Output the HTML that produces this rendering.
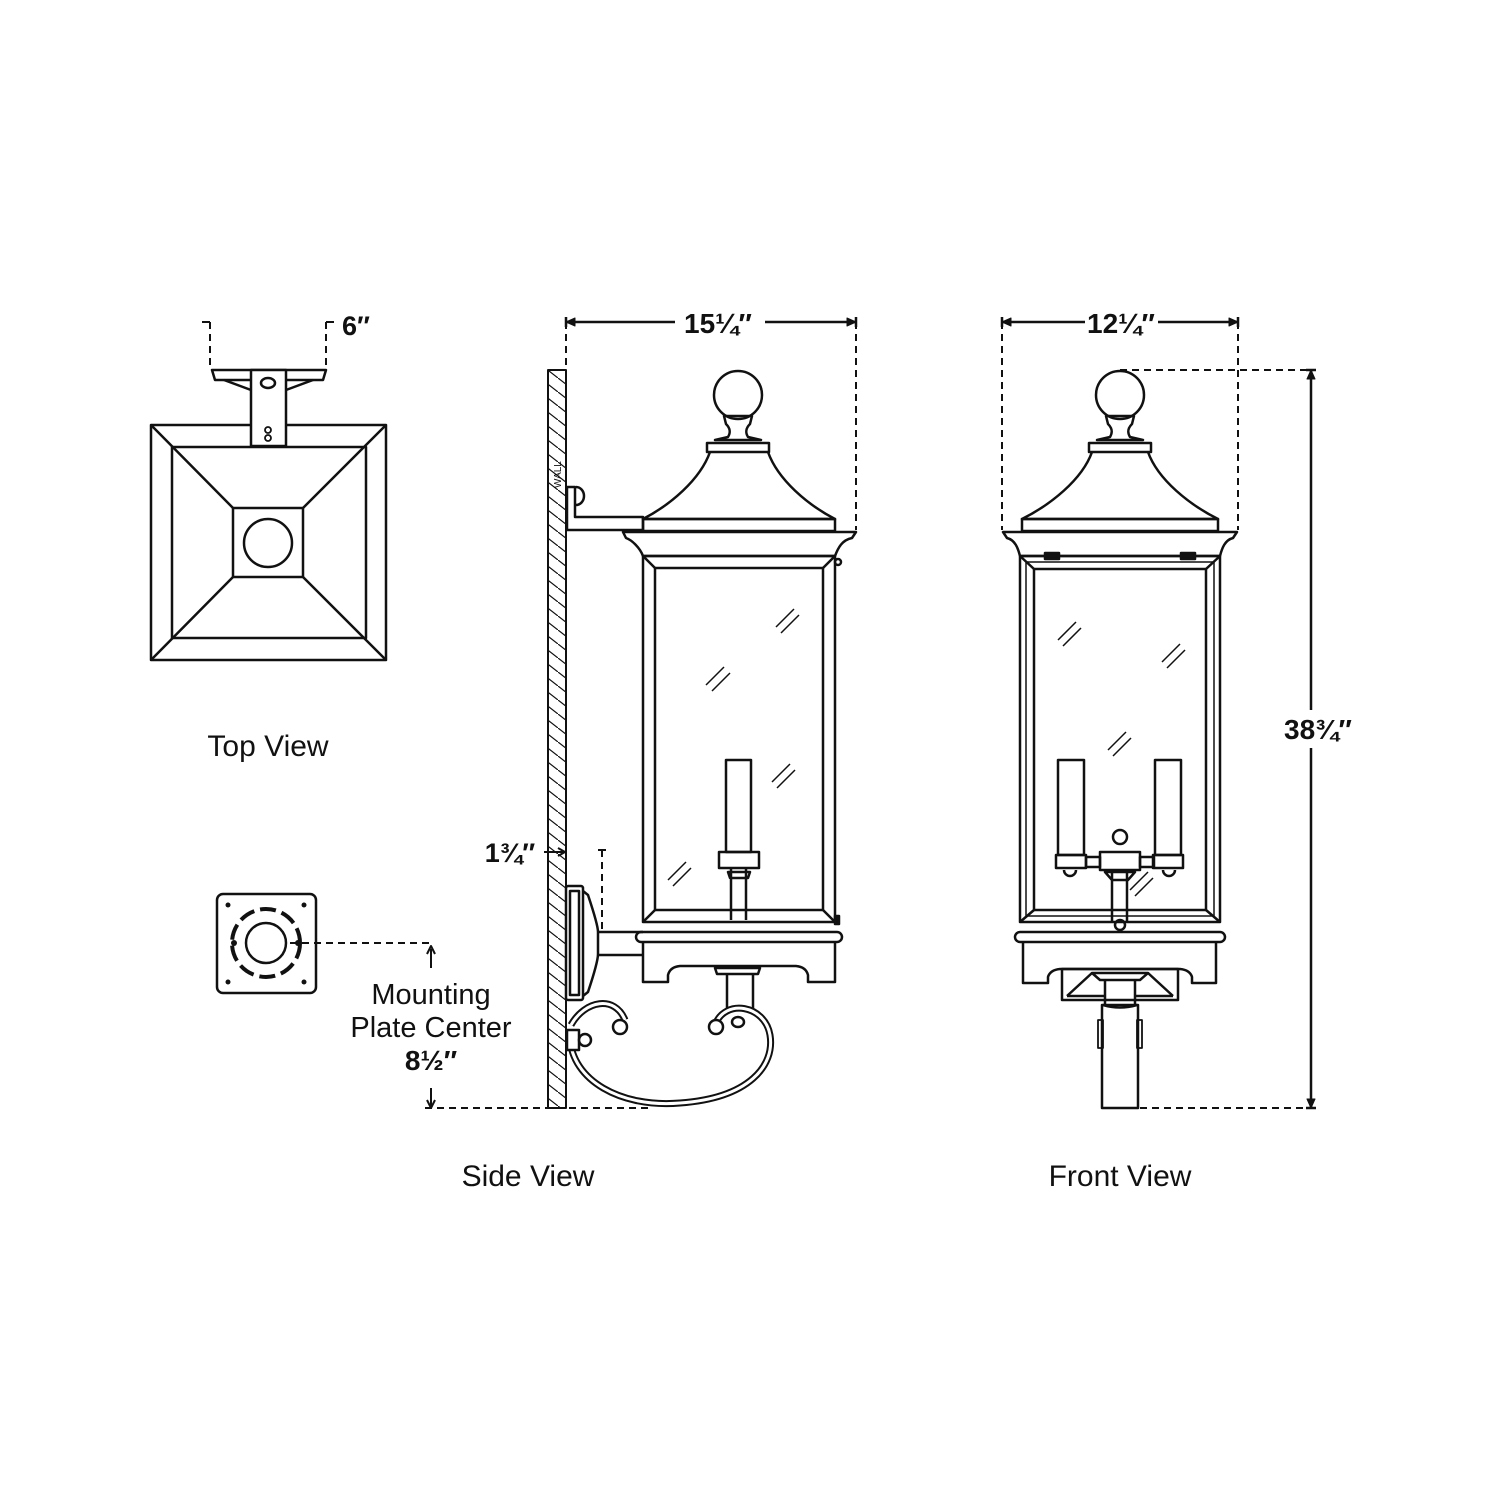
<!DOCTYPE html>
<html><head><meta charset="utf-8"><style>
html,body{margin:0;padding:0;background:#fff;}
svg{display:block}
text{font-family:"Liberation Sans",sans-serif;fill:#111}
</style></head><body>
<svg width="1500" height="1500" viewBox="0 0 1500 1500" xmlns="http://www.w3.org/2000/svg">
<defs>
<pattern id="hatch" patternUnits="userSpaceOnUse" width="18" height="14">
<path d="M0,0 L18,14" stroke="#111" stroke-width="1.2"/>
</pattern>
</defs>
<g fill="none" stroke="#111" stroke-width="2.5" stroke-linejoin="round">

<!-- TOP VIEW -->
<rect x="151" y="425" width="235" height="235"/>
<rect x="172" y="447" width="194" height="191"/>
<rect x="233" y="508" width="70" height="69"/>
<circle cx="268" cy="543" r="24"/>
<path d="M151,425 L233,508 M386,425 L303,508 M151,660 L233,577 M386,660 L303,577"/>
<path d="M212,370 L326,370 L323,380 L215,380 Z" fill="#fff"/>
<path d="M224,380 L251,390 M313,380 L286,390"/>
<rect x="251" y="370" width="35" height="76" fill="#fff"/>
<ellipse cx="268" cy="383" rx="7" ry="5"/>
<circle cx="268" cy="430" r="3" stroke-width="1.8"/>
<circle cx="268" cy="438" r="3" stroke-width="1.8"/>
<g stroke-dasharray="7,5" stroke-width="2"><path d="M210,322 V370 M326,322 V370"/></g>
<path d="M202,322 H210 M326,322 H334" stroke-width="2"/>

<!-- MOUNTING PLATE -->
<rect x="217" y="894" width="99" height="99" rx="6"/>
<circle cx="266" cy="943" r="20"/>
<circle cx="266" cy="943" r="34" stroke-width="4" stroke-dasharray="16,6"/>
<g fill="#111" stroke="none">
<circle cx="228" cy="905" r="2.5"/><circle cx="304" cy="905" r="2.5"/><circle cx="228" cy="982" r="2.5"/><circle cx="304" cy="982" r="2.5"/>
<circle cx="234" cy="943" r="3"/><circle cx="298" cy="943" r="3"/></g>
<path d="M290,943 H433" stroke-dasharray="7,5" stroke-width="2"/>
<path d="M431,949 V968 M431,1088 V1106 M427,954 L431,946 L435,954 M427,1100 L431,1108 L435,1100" stroke-width="2"/>
<path d="M425,1108 H650" stroke-dasharray="7,5" stroke-width="2"/>

<!-- SIDE VIEW -->
<rect x="548" y="370" width="18" height="738" fill="url(#hatch)" stroke-width="2"/>
<path d="M566,322 V530" stroke-dasharray="7,5" stroke-width="2"/>
<path d="M856,322 V530" stroke-dasharray="7,5" stroke-width="2"/>
<path d="M566,322 H675 M765,322 H856 M566,317 V327 M856,317 V327" stroke-width="2.5"/>
<path d="M575,322 L568,322 M566,322 l9,-4 v8 z M856,322 l-9,-4 v8 z" fill="#111" stroke-width="1"/>
<!-- top bracket -->
<path d="M567,487 H575 V517 H643 V530 H567 Z" fill="#fff"/>
<path d="M576,487 a8,9 0 0 1 0,18" />
<!-- finial -->
<circle cx="738" cy="395" r="24"/>
<path d="M724,416 H752 L750,424 C746,428 745,432 748,437 L761,440 H715 L728,437 C731,432 730,428 726,424 Z"/>
<rect x="707" y="443" width="62" height="9"/>
<path d="M710,452 C700,480 670,505 643,519 H835 C808,505 778,480 768,452"/>
<rect x="643" y="519" width="192" height="12"/>
<path d="M623,532 H856 L852,538 C842,540 838,548 835,556 H643 C640,548 632,540 626,538 Z"/>
<rect x="643" y="556" width="192" height="366"/>
<rect x="655" y="568" width="168" height="342"/>
<path d="M643,556 L655,568 M835,556 L823,568 M643,922 L655,910 M835,922 L823,910"/>
<circle cx="838" cy="562" r="3"/>
<rect x="835" y="916" width="4" height="8" fill="#111"/>
<!-- candle side -->
<rect x="726" y="760" width="25" height="92"/>
<rect x="719" y="852" width="40" height="16"/>
<path d="M731,868 V920 M746,868 V920 M728,872 H750 L748,878 H730 Z"/>
<!-- glass marks -->
<path d="M776,627 l18,-18 M781,633 l18,-18 M706,685 l18,-18 M712,691 l18,-18 M772,782 l18,-18 M777,788 l18,-18 M668,880 l18,-18 M673,886 l18,-18" stroke-width="1.5"/>
<!-- bottom base -->
<path d="M641,932 H837 a5,5 0 0 1 0,10 H641 a5,5 0 0 1 0,-10 Z"/>
<path d="M643,942 V982 H668 V975 Q670,967 680,966 H796 Q806,967 808,975 V982 H835 V942"/>
<path d="M715,968 H760 L758,974 H717 Z"/>
<path d="M727,974 V1012 M753,974 V1012"/>
<!-- wall plate + arm -->
<rect x="566" y="886" width="17" height="114" rx="2"/>
<rect x="570" y="891" width="9" height="104"/>
<path d="M583,891 L588,895 Q598,925 598,932 V954 Q598,962 588,992 L583,996"/>
<path d="M598,932 H643 M598,955 H643" />
<path d="M602,850 V930" stroke-dasharray="7,5" stroke-width="2"/>
<path d="M598,850 H606" stroke-width="2"/>
<path d="M544,852 H565 M558,848 L565,852 L558,856" stroke-width="2"/>
<!-- scroll -->
<path d="M571,1025 C585,1000 615,995 625,1020" stroke-width="7" stroke="#111"/>
<path d="M571,1025 C585,1000 615,995 625,1020" stroke-width="3" stroke="#fff"/>
<circle cx="620" cy="1027" r="7" fill="#fff"/>
<path d="M570,1038 C572,1080 620,1108 680,1103 C750,1098 775,1065 770,1035 C765,1005 725,998 715,1025" stroke-width="7" stroke="#111"/>
<path d="M570,1038 C572,1080 620,1108 680,1103 C750,1098 775,1065 770,1035 C765,1005 725,998 715,1025" stroke-width="3" stroke="#fff"/>
<circle cx="716" cy="1027" r="7" fill="#fff"/>
<ellipse cx="738" cy="1022" rx="6" ry="5" fill="#fff"/>
<rect x="567" y="1030" width="12" height="20" fill="#fff"/>
<circle cx="585" cy="1040" r="6" fill="#fff"/>

<!-- FRONT VIEW -->
<path d="M1002,322 V530 M1238,322 V530" stroke-dasharray="7,5" stroke-width="2"/>
<path d="M1002,322 H1085 M1158,322 H1238 M1002,317 V327 M1238,317 V327" stroke-width="2.5"/>
<path d="M1002,322 l9,-4 v8 z M1238,322 l-9,-4 v8 z" fill="#111" stroke-width="1"/>
<path d="M1120,370 H1311 M1140,1108 H1311" stroke-dasharray="7,5" stroke-width="2"/>
<path d="M1311,370 V710 M1311,748 V1108 M1306,370 H1316 M1306,1108 H1316" stroke-width="2.5"/>
<path d="M1311,370 l-4,9 h8 z M1311,1108 l-4,-9 h8 z" fill="#111" stroke-width="1"/>
<circle cx="1120" cy="395" r="24"/>
<path d="M1106,416 H1134 L1132,424 C1128,428 1127,432 1130,437 L1143,440 H1097 L1110,437 C1113,432 1112,428 1108,424 Z"/>
<rect x="1089" y="443" width="62" height="9"/>
<path d="M1092,452 C1082,480 1050,505 1022,519 H1218 C1190,505 1158,480 1148,452"/>
<rect x="1022" y="519" width="196" height="12"/>
<path d="M1003,532 H1237 L1233,538 C1225,540 1222,548 1220,556 H1020 C1018,548 1015,540 1007,538 Z"/>
<rect x="1045" y="553" width="14" height="6" fill="#111"/>
<rect x="1181" y="553" width="14" height="6" fill="#111"/>
<rect x="1020" y="556" width="200" height="366"/>
<rect x="1026" y="562" width="188" height="354" stroke-width="1.5"/>
<rect x="1034" y="569" width="172" height="341"/>
<path d="M1020,556 L1034,569 M1220,556 L1206,569 M1020,922 L1034,910 M1220,922 L1206,910"/>
<path d="M1058,640 l18,-18 M1063,646 l18,-18 M1162,662 l18,-18 M1167,668 l18,-18 M1108,750 l18,-18 M1113,756 l18,-18 M1130,890 l18,-18 M1135,896 l18,-18" stroke-width="1.5"/>
<!-- candles front -->
<rect x="1058" y="760" width="26" height="95"/>
<rect x="1155" y="760" width="26" height="95"/>
<rect x="1056" y="855" width="30" height="13"/>
<rect x="1153" y="855" width="30" height="13"/>
<rect x="1086" y="857" width="14" height="10"/>
<rect x="1140" y="857" width="14" height="10"/>
<rect x="1100" y="852" width="40" height="18"/>
<circle cx="1120" cy="837" r="7"/>
<path d="M1064,870 a6,6 0 0 0 12,0 M1163,870 a6,6 0 0 0 12,0"/>
<path d="M1112,870 V922 M1127,870 V922 M1105,872 H1135 L1128,880 H1112 Z"/>
<circle cx="1120" cy="925" r="5"/>
<path d="M1020,932 H1220 a5,5 0 0 1 0,10 H1020 a5,5 0 0 1 0,-10 Z"/>
<path d="M1023,942 V983 H1048 V977 Q1050,970 1060,969 H1180 Q1190,970 1192,977 V983 H1216 V942"/>
<rect x="1062" y="969" width="116" height="31"/>
<path d="M1067,996 L1092,973 M1173,996 L1148,973 M1067,996 H1105 M1135,996 H1173"/>
<path d="M1092,973 H1148 L1140,980 H1100 Z"/>
<path d="M1105,980 V1005 M1135,980 V1005 M1103,1005 Q1120,1010 1137,1005"/>
<rect x="1102" y="1005" width="36" height="103"/>
<rect x="1098" y="1020" width="5" height="28" stroke-width="1.8"/>
<rect x="1137" y="1020" width="5" height="28" stroke-width="1.8"/>
</g>

<text x="342" y="335" font-size="27" font-weight="bold">6″</text>
<text x="718" y="333" font-size="28" font-weight="bold" text-anchor="middle">15¼″</text>
<text x="1121" y="333" font-size="28" font-weight="bold" text-anchor="middle">12¼″</text>
<text x="1318" y="739" font-size="28" font-weight="bold" text-anchor="middle">38¾″</text>
<text x="510" y="862" font-size="27" font-weight="bold" text-anchor="middle">1¾″</text>
<text x="431" y="1004" font-size="29" text-anchor="middle">Mounting</text>
<text x="431" y="1037" font-size="29" text-anchor="middle">Plate Center</text>
<text x="431" y="1070" font-size="28" font-weight="bold" text-anchor="middle">8½″</text>
<text x="268" y="756" font-size="30" text-anchor="middle">Top View</text>
<text x="528" y="1186" font-size="30" text-anchor="middle">Side View</text>
<text x="1120" y="1186" font-size="30" text-anchor="middle">Front View</text>
<text x="0" y="0" font-size="10" transform="translate(561,488) rotate(-90)">WALL</text>
</svg>
</body></html>
